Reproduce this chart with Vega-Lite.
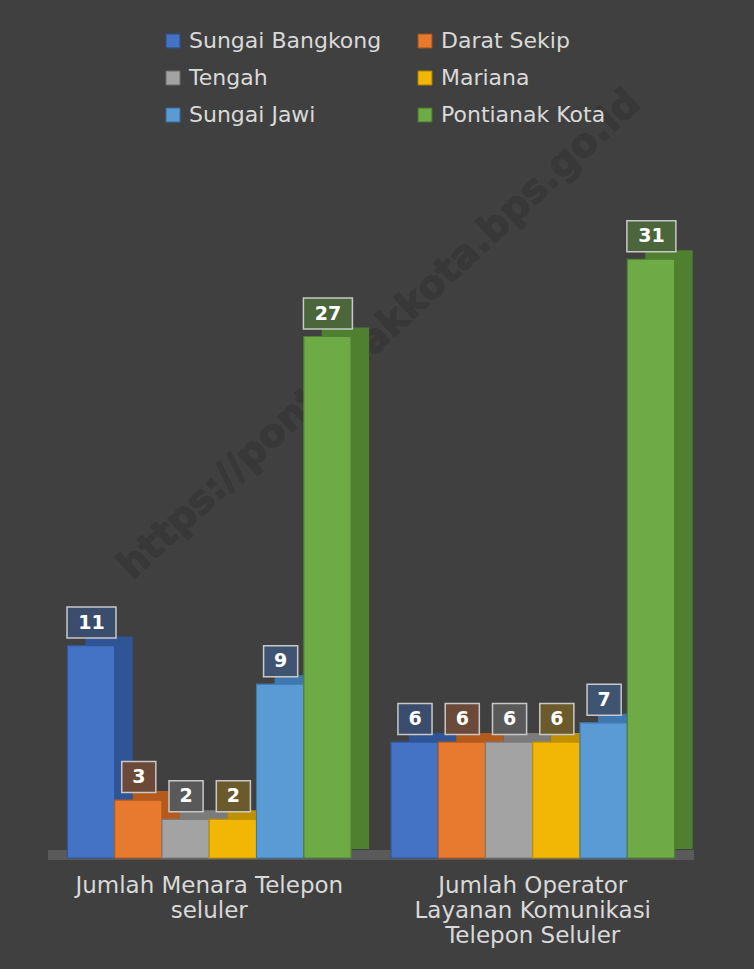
{
  "$schema": "https://vega.github.io/schema/vega-lite/v6.json",
  "width": 646,
  "height": 676,
  "autosize": {"type": "none"},
  "padding": {"left": 48, "top": 182, "right": 60, "bottom": 111},
  "background": "#404040",
  "config": {
    "view": {"stroke": null},
    "font": "DejaVu Sans"
  },
  "data": {
    "values": [
      {"category": "Jumlah Menara Telepon seluler", "series": "Sungai Bangkong", "v": 11},
      {"category": "Jumlah Menara Telepon seluler", "series": "Darat Sekip", "v": 3},
      {"category": "Jumlah Menara Telepon seluler", "series": "Tengah", "v": 2},
      {"category": "Jumlah Menara Telepon seluler", "series": "Mariana", "v": 2},
      {"category": "Jumlah Menara Telepon seluler", "series": "Sungai Jawi", "v": 9},
      {"category": "Jumlah Menara Telepon seluler", "series": "Pontianak Kota", "v": 27},
      {"category": "Jumlah Operator Layanan Komunikasi Telepon Seluler", "series": "Sungai Bangkong", "v": 6},
      {"category": "Jumlah Operator Layanan Komunikasi Telepon Seluler", "series": "Darat Sekip", "v": 6},
      {"category": "Jumlah Operator Layanan Komunikasi Telepon Seluler", "series": "Tengah", "v": 6},
      {"category": "Jumlah Operator Layanan Komunikasi Telepon Seluler", "series": "Mariana", "v": 6},
      {"category": "Jumlah Operator Layanan Komunikasi Telepon Seluler", "series": "Sungai Jawi", "v": 7},
      {"category": "Jumlah Operator Layanan Komunikasi Telepon Seluler", "series": "Pontianak Kota", "v": 31}
    ]
  },
  "encoding": {
    "x": {
      "field": "category",
      "type": "nominal",
      "sort": null,
      "scale": {
        "domain": ["Jumlah Menara Telepon seluler", "Jumlah Operator Layanan Komunikasi Telepon Seluler"],
        "paddingInner": 0.123,
        "paddingOuter": 0.06
      },
      "axis": {
        "title": null,
        "domain": false,
        "ticks": false,
        "labelAngle": 0,
        "labelFont": "DejaVu Sans",
        "labelFontSize": 23,
        "labelColor": "#d9d9d9",
        "labelLineHeight": 25,
        "labelPadding": 16,
        "labelBaseline": "top",
        "labelLimit": 400,
        "labelExpr": "datum.value == 'Jumlah Menara Telepon seluler' ? ['Jumlah Menara Telepon', 'seluler'] : ['Jumlah Operator', 'Layanan Komunikasi', 'Telepon Seluler']"
      }
    },
    "y": {
      "field": "v",
      "type": "quantitative",
      "scale": {"domain": [0, 35], "nice": false},
      "axis": null
    }
  },
  "layer": [
    {
      "mark": {"type": "rule", "color": "#5a5a5a", "strokeWidth": 9, "yOffset": -3},
      "encoding": {"y": {"datum": 0}, "x": null}
    },
    {
      "mark": {
        "type": "text",
        "angle": -43,
        "fontSize": 39,
        "fontWeight": "bold",
        "font": "DejaVu Sans",
        "color": "#383838",
        "xOffset": 170
      },
      "encoding": {
        "x": {"datum": "Jumlah Menara Telepon seluler", "type": "nominal"},
        "y": {"datum": 27.1},
        "text": {"value": "https://pontianakkota.bps.go.id"}
      }
    },
    {
      "mark": {"type": "bar", "yOffset": -9, "strokeWidth": 0},
      "encoding": {
        "xOffset": {
          "field": "series",
          "type": "nominal",
          "sort": null,
          "scale": {"range": [18, 301.7], "paddingInner": 0, "paddingOuter": 0}
        },
        "fill": {
          "field": "series",
          "type": "nominal",
          "sort": null,
          "scale": {
            "domain": ["Sungai Bangkong", "Darat Sekip", "Tengah", "Mariana", "Sungai Jawi", "Pontianak Kota"],
            "range": ["#2f5597", "#b35a1c", "#7b7b7b", "#bf9000", "#3f78ae", "#4f8030"]
          },
          "legend": null
        }
      }
    },
    {
      "mark": {"type": "bar", "strokeWidth": 1.2},
      "encoding": {
        "xOffset": {
          "field": "series",
          "type": "nominal",
          "sort": null,
          "scale": {"range": [0, 283.7], "paddingInner": 0, "paddingOuter": 0}
        },
        "fill": {
          "field": "series",
          "type": "nominal",
          "sort": null,
          "scale": {
            "domain": ["Sungai Bangkong", "Darat Sekip", "Tengah", "Mariana", "Sungai Jawi", "Pontianak Kota"],
            "range": ["#4472c4", "#e87a2f", "#a3a3a3", "#f2b705", "#5b9bd5", "#6eaa46"]
          },
          "legend": {
            "title": null,
            "orient": "none",
            "legendX": 112,
            "legendY": -152,
            "columns": 2,
            "columnPadding": 30,
            "rowPadding": 15,
            "values": ["Sungai Bangkong", "Tengah", "Sungai Jawi", "Darat Sekip", "Mariana", "Pontianak Kota"],
            "symbolType": "square",
            "symbolSize": 190,
            "symbolStrokeColor": "#2a2a2a",
            "symbolStrokeWidth": 1,
            "symbolOffset": 2,
            "labelFont": "DejaVu Sans",
            "labelFontSize": 22,
            "labelColor": "#d9d9d9",
            "labelOffset": 5,
            "labelLimit": 300
          }
        },
        "stroke": {
          "field": "series",
          "type": "nominal",
          "sort": null,
          "scale": {
            "domain": ["Sungai Bangkong", "Darat Sekip", "Tengah", "Mariana", "Sungai Jawi", "Pontianak Kota"],
            "range": ["#2f5597", "#b35a1c", "#7b7b7b", "#bf9000", "#3f78ae", "#4f8030"]
          },
          "legend": null
        }
      }
    },
    {
      "mark": {
        "type": "point",
        "filled": true,
        "opacity": 1,
        "yOffset": -23,
        "size": 961,
        "stroke": "#c8c8c8",
        "strokeWidth": 1.5
      },
      "encoding": {
        "xOffset": {
          "field": "series",
          "type": "nominal",
          "sort": null,
          "scale": {"range": [24.1, 260.5], "padding": 0}
        },
        "shape": {
          "condition": {"test": "datum.v >= 10", "value": "M-1.58,-1H1.58V1H-1.58Z"},
          "value": "M-1.1,-1H1.1V1H-1.1Z"
        },
        "fill": {
          "field": "series",
          "type": "nominal",
          "sort": null,
          "scale": {
            "domain": ["Sungai Bangkong", "Darat Sekip", "Tengah", "Mariana", "Sungai Jawi", "Pontianak Kota"],
            "range": ["#3b4d6d", "#6c4a39", "#595959", "#6b5a2b", "#3f5470", "#4b663a"]
          },
          "legend": null
        }
      }
    },
    {
      "mark": {
        "type": "text",
        "yOffset": -23,
        "baseline": "middle",
        "align": "center",
        "fontSize": 19,
        "fontWeight": "bold",
        "font": "DejaVu Sans",
        "color": "#ffffff"
      },
      "encoding": {
        "xOffset": {
          "field": "series",
          "type": "nominal",
          "sort": null,
          "scale": {"range": [24.1, 260.5], "padding": 0}
        },
        "text": {"field": "v", "type": "quantitative"}
      }
    }
  ],
  "resolve": {"scale": {"xOffset": "independent", "fill": "independent", "stroke": "independent"}}
}
